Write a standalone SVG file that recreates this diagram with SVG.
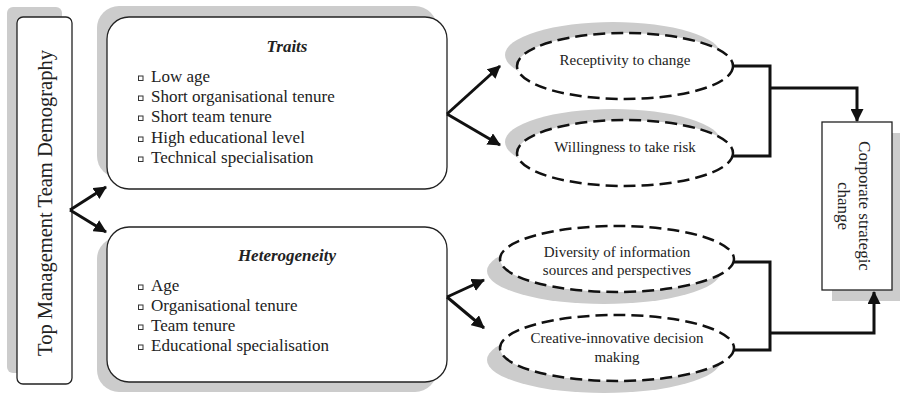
<svg xmlns="http://www.w3.org/2000/svg" width="900" height="395" viewBox="0 0 900 395">
<style>
.shadow{fill:#cccccc;stroke:none}
.box{fill:#ffffff;stroke:#222222;stroke-width:1.3}
.ell{fill:#ffffff;stroke:#111111;stroke-width:2.5;stroke-dasharray:12 6}
.t{font-family:"Liberation Serif","Times New Roman",serif;fill:#222222}
.title{font-weight:bold;font-style:italic;font-size:17px;text-anchor:middle}
.item{font-size:17px}
.et{font-size:15px;text-anchor:middle}
.bul{fill:#ffffff;stroke:#333333;stroke-width:1}
.con{fill:none;stroke:#111111;stroke-width:3}
</style>
<defs>
<marker id="ah" markerUnits="userSpaceOnUse" viewBox="0 0 13 13" refX="12" refY="6.5" markerWidth="13" markerHeight="13" orient="auto">
<path d="M0,0 L13,6.5 L0,13 z" fill="#111111"/>
</marker>
</defs>
<rect width="900" height="395" fill="#ffffff"/>

<g id="tmt">
<rect class="shadow" x="7" y="7" width="55" height="366" rx="6"/>
<rect class="box" x="17" y="17" width="55" height="367" rx="6"/>
<text class="t" x="0" y="0" font-size="20.5" text-anchor="middle" transform="translate(52,203) rotate(-90)">Top Management Team Demography</text>
</g>

<g id="traits">
<rect class="shadow" x="97" y="6" width="340" height="172" rx="22"/>
<rect class="box" x="107" y="17" width="340" height="172" rx="22"/>
<text class="t title" x="287" y="52">Traits</text>
<rect class="bul" x="138.5" y="76" width="4.5" height="4.5"/>
<rect class="bul" x="138.5" y="96" width="4.5" height="4.5"/>
<rect class="bul" x="138.5" y="116" width="4.5" height="4.5"/>
<rect class="bul" x="138.5" y="137" width="4.5" height="4.5"/>
<rect class="bul" x="138.5" y="157" width="4.5" height="4.5"/>
<text class="t item" x="151" y="82">Low age</text>
<text class="t item" x="151" y="102">Short organisational tenure</text>
<text class="t item" x="151" y="122">Short team tenure</text>
<text class="t item" x="151" y="143">High educational level</text>
<text class="t item" x="151" y="163">Technical specialisation</text>
</g>

<g id="heterogeneity">
<rect class="shadow" x="97" y="237" width="340" height="155" rx="22"/>
<rect class="box" x="107" y="227" width="340" height="155" rx="22"/>
<text class="t title" x="287" y="261">Heterogeneity</text>
<rect class="bul" x="138.5" y="285" width="4.5" height="4.5"/>
<rect class="bul" x="138.5" y="305" width="4.5" height="4.5"/>
<rect class="bul" x="138.5" y="325" width="4.5" height="4.5"/>
<rect class="bul" x="138.5" y="345" width="4.5" height="4.5"/>
<text class="t item" x="151" y="291">Age</text>
<text class="t item" x="151" y="311">Organisational tenure</text>
<text class="t item" x="151" y="331">Team tenure</text>
<text class="t item" x="151" y="351">Educational specialisation</text>
</g>

<g id="receptivity">
<ellipse class="shadow" cx="613" cy="55" rx="108" ry="33"/>
<ellipse class="ell" cx="625" cy="66" rx="108" ry="33"/>
<text class="t et" x="625" y="65">Receptivity to change</text>
</g>

<g id="willingness">
<ellipse class="shadow" cx="613" cy="142" rx="108" ry="33"/>
<ellipse class="ell" cx="625" cy="153" rx="108" ry="33"/>
<text class="t et" x="625" y="152">Willingness to take risk</text>
</g>

<g id="diversity">
<ellipse class="shadow" cx="604" cy="271" rx="117" ry="33"/>
<ellipse class="ell" cx="617" cy="259" rx="117" ry="33"/>
<text class="t et" x="617" y="257">Diversity of information</text>
<text class="t et" x="617" y="275">sources and perspectives</text>
</g>

<g id="creative">
<ellipse class="shadow" cx="604" cy="360" rx="117" ry="33"/>
<ellipse class="ell" cx="617" cy="348" rx="117" ry="33"/>
<text class="t et" x="617" y="343">Creative-innovative decision</text>
<text class="t et" x="617" y="362">making</text>
</g>

<g id="corporate">
<rect class="shadow" x="832" y="133" width="68" height="168"/>
<rect class="box" x="822" y="122" width="70" height="168"/>
<text class="t" font-size="17" text-anchor="middle" transform="translate(859,206) rotate(90)"><tspan x="0" y="0">Corporate strategic</tspan><tspan x="0" y="21">change</tspan></text>
</g>

<g id="connectors">
<path class="con" d="M70,210 L106,187" marker-end="url(#ah)"/>
<path class="con" d="M70,210 L106,232" marker-end="url(#ah)"/>
<path class="con" d="M447,114 L500,66" marker-end="url(#ah)"/>
<path class="con" d="M447,114 L500,145" marker-end="url(#ah)"/>
<path class="con" d="M447,297 L484,280" marker-end="url(#ah)"/>
<path class="con" d="M447,297 L484,328" marker-end="url(#ah)"/>
<path class="con" d="M733,66 L770,66 L770,156 L733,156"/>
<path class="con" d="M770,88 L857,88 L857,121" marker-end="url(#ah)"/>
<path class="con" d="M734,262 L770,262 L770,350 L734,350"/>
<path class="con" d="M770,333 L874,333 L874,292" marker-end="url(#ah)"/>
</g>
</svg>
